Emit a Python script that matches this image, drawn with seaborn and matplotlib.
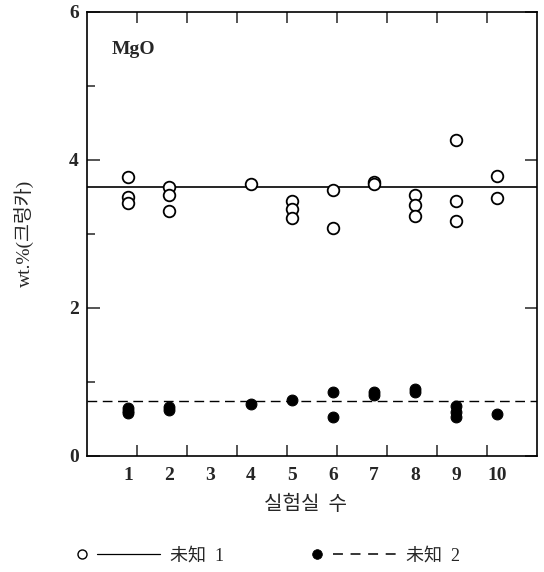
import matplotlib
matplotlib.use("Agg")
import numpy as np
import pandas as pd
import matplotlib.pyplot as plt
import seaborn as sns
from matplotlib.lines import Line2D
from matplotlib.legend_handler import HandlerBase

# ---------------- data ----------------
labs_1 = [1, 1, 1, 2, 2, 2, 4, 5, 5, 5, 6, 6, 7, 7, 8, 8, 8, 9, 9, 9, 10, 10]
vals_1 = [3.77, 3.50, 3.42, 3.64, 3.53, 3.31, 3.67, 3.45, 3.34, 3.22, 3.59, 3.08,
          3.70, 3.67, 3.53, 3.39, 3.24, 4.27, 3.45, 3.18, 3.78, 3.49]
labs_2 = [1, 1, 1, 2, 2, 4, 5, 6, 6, 7, 7, 8, 8, 9, 9, 9, 10]
vals_2 = [0.65, 0.61, 0.58, 0.66, 0.62, 0.70, 0.76, 0.86, 0.53, 0.87, 0.82,
          0.91, 0.86, 0.68, 0.60, 0.53, 0.57]
mean_1 = 3.63
mean_2 = 0.74
lab_ticks = [1, 2, 3, 4, 5, 6, 7, 8, 9, 10]
lab_labels = ["1", "2", "3", "4", "5", "6", "7", "8", "9", "10"]
y_ticks = [0, 2, 4, 6]
y_minor = [1, 3, 5]
series_names = ["未知  1", "未知  2"]
panel_title = "MgO"
x_title = "실험실  수"
y_title = "wt.%(크렁카)"

df1 = pd.DataFrame({"lab": labs_1, "value": vals_1})
df2 = pd.DataFrame({"lab": labs_2, "value": vals_2})

# ---------------- style ----------------
sns.set_theme(style="ticks")
serif = ["Liberation Serif", "Noto Sans CJK KR", "Noto Sans CJK SC", "DejaVu Sans"]
plt.rcParams["font.family"] = serif
plt.rcParams["axes.linewidth"] = 1.2

fig = plt.figure(figsize=(5.44, 5.72), dpi=100)
ax = fig.add_axes([87 / 544, 1 - 456 / 572, 450 / 544, 444 / 572])

sns.scatterplot(data=df1, x="lab", y="value", ax=ax, marker="o", s=70,
                color="white", edgecolor="black", linewidth=1.3, zorder=3)
sns.scatterplot(data=df2, x="lab", y="value", ax=ax, marker="o", s=60,
                color="black", edgecolor="black", linewidth=0.8, zorder=3)
ax.axhline(mean_1, color="black", lw=1.2, zorder=2)
ax.axhline(mean_2, color="black", lw=1.0, ls=(0, (7, 4)), zorder=2)

ax.set_xlim(0, 450 / 41)
ax.set_ylim(0, 6)

# x: labels at lab positions without marks; marks on their own grid
ax.set_xticks(lab_ticks)
ax.set_xticklabels(lab_labels, fontsize=14, fontweight="bold")
ax.set_xticks([j * 50 / 41 for j in range(1, 9)], minor=True)
ax.tick_params(axis="x", which="major", length=0, pad=8)
ax.tick_params(axis="x", which="minor", direction="in", length=8, width=1.1,
               top=True, bottom=True)

ax.set_yticks(y_ticks)
ax.set_yticklabels([str(v) for v in y_ticks], fontsize=14, fontweight="bold")
ax.set_yticks(y_minor, minor=True)
ax.tick_params(axis="y", which="major", direction="in", length=9, width=1.1,
               left=True, right=True, pad=6)
ax.tick_params(axis="y", which="minor", direction="in", length=6, width=1.1,
               left=True, right=False)

ax.set_xlabel(x_title, fontsize=14.5, family=["Noto Sans CJK KR"])
ax.xaxis.label.set_va("center")
ax.xaxis.set_label_coords((306 - 87) / 450, (456 - 505) / 444)
ax.set_ylabel(y_title, fontsize=14, family=serif)
ax.yaxis.label.set_va("center")
ax.yaxis.set_label_coords((24 - 87) / 450, (456 - 233) / 444)

ax.text(0.6, 5.49, panel_title, fontsize=14, fontweight="bold",
        ha="left", va="center")

for sp in ax.spines.values():
    sp.set_visible(True)
    sp.set_color("black")


# ---------------- legend ----------------
class MarkerThenLine(HandlerBase):
    def create_artists(self, legend, orig_handle, xdescent, ydescent,
                       width, height, fontsize, trans):
        mk, ln = orig_handle
        y = height / 2 - ydescent
        ms = mk.get_markersize()
        m = Line2D([-xdescent + ms / 2], [y], marker="o", linestyle="none",
                   markersize=ms, markerfacecolor=mk.get_markerfacecolor(),
                   markeredgecolor="black", markeredgewidth=mk.get_markeredgewidth())
        start = -xdescent + ms + 8
        l = Line2D([], [])
        l.update_from(ln)
        l.set_data([start, -xdescent + width], [y, y])
        m.set_transform(trans)
        l.set_transform(trans)
        return [m, l]


h1 = (Line2D([], [], marker="o", markersize=6.5, markerfacecolor="white",
             markeredgewidth=1.0, linestyle="none"),
      Line2D([], [], color="black", lw=0.9))
h2 = (Line2D([], [], marker="o", markersize=7, markerfacecolor="black",
             markeredgewidth=0.5, linestyle="none"),
      Line2D([], [], color="black", lw=1.1, ls=(0, (6.5, 5))))

leg = fig.legend([h1, h2], series_names, loc="center left",
                 bbox_to_anchor=(77 / 544, 1 - 556 / 572), ncol=2,
                 frameon=False, handlelength=4.6, handletextpad=0.55,
                 columnspacing=4.9, borderaxespad=0, borderpad=0,
                 handler_map={tuple: MarkerThenLine()},
                 prop={"family": serif, "size": 13})

fig.savefig("out.png", dpi=100)
